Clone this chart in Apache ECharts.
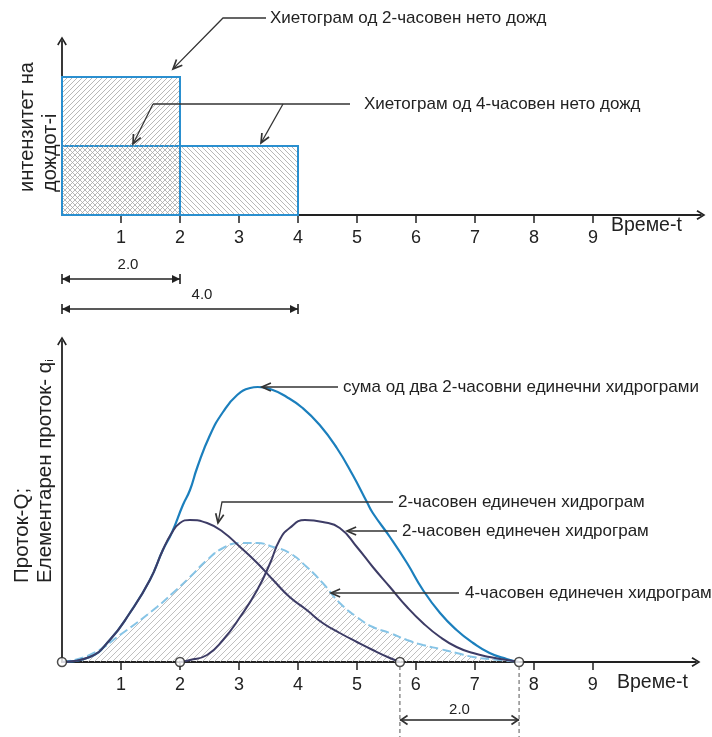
<!DOCTYPE html>
<html>
<head>
<meta charset="utf-8">
<script src="https://cdn.jsdelivr.net/npm/echarts@6/dist/echarts.min.js"></script>
<style>
  html, body { margin: 0; padding: 0; background: #fff; }
  #chart { width: 712px; height: 737px; }
</style>
</head>
<body>
<div id="chart"></div>
<script>
// ---- Hyetographs (net rain): duration in hours and intensity ----
const hyetoDuration = [4, 2];
const hyetoIntensity = [1, 2];

// ---- Time axis tick labels ----
const tickLabels = ['1', '2', '3', '4', '5', '6', '7', '8', '9'];

// ---- Unit hydrographs [time, discharge] ----
const uhFirst = [
  [0, 0], [0.47, 0.5], [0.81, 2.2], [1.15, 4.9], [1.49, 8.2], [1.71, 11.2], [1.86, 12.9],
  [2.0, 13.9], [2.17, 14.2], [2.46, 13.9], [2.73, 13.0], [3.02, 11.5], [3.31, 9.9],
  [3.58, 8.2], [3.86, 6.5], [4.15, 5.2], [4.42, 3.9], [4.71, 2.9], [5.0, 2.0],
  [5.27, 1.2], [5.56, 0.4], [5.73, 0]
];
const uhSecond = [
  [2.0, 0], [2.17, 0.2], [2.46, 0.7], [2.73, 2.2], [3.02, 4.5], [3.31, 7.2], [3.53, 9.9],
  [3.69, 12.2], [3.86, 13.4], [4.12, 14.2], [4.42, 14.0], [4.71, 13.4], [5.0, 11.5],
  [5.27, 9.5], [5.56, 7.5], [5.85, 5.5], [6.12, 3.9], [6.41, 2.5], [6.69, 1.5],
  [6.97, 0.9], [7.25, 0.5], [7.54, 0.2], [7.75, 0]
];
const uhFour = [
  [0, 0], [0.47, 0.7], [1.03, 2.9], [1.61, 5.5], [1.88, 6.9], [2.17, 8.5], [2.46, 10.2],
  [2.73, 11.4], [3.02, 11.9], [3.31, 11.9], [3.58, 11.5], [3.86, 10.9], [4.15, 9.5],
  [4.42, 7.9], [4.71, 5.9], [5.0, 4.5], [5.27, 3.5], [5.56, 2.9], [5.85, 2.2],
  [6.12, 1.7], [6.41, 1.3], [6.69, 0.9], [6.97, 0.5], [7.25, 0.3], [7.75, 0]
];
const uhSum = [
  [0, 0], [0.47, 0.5], [0.81, 2.2], [1.15, 4.9], [1.49, 8.2], [1.71, 11.2], [1.86, 12.9],
  [2.05, 15.7], [2.17, 17.2], [2.29, 19.4], [2.51, 22.7], [2.73, 25.0], [2.97, 26.7],
  [3.19, 27.4], [3.32, 27.5], [3.53, 27.3], [3.81, 26.5], [4.08, 25.4], [4.37, 23.7],
  [4.66, 21.4], [4.93, 18.7], [5.17, 16.0], [5.27, 14.9], [5.56, 12.5], [5.85, 9.9],
  [6.12, 7.2], [6.41, 4.9], [6.69, 3.2], [6.97, 1.9], [7.25, 0.9], [7.54, 0.3], [7.75, 0]
];
// start / end points of the 2-hour unit hydrographs
const keyPoints = [[0, 0], [2, 0], [5.73, 0], [7.75, 0]];

const tickValues = tickLabels.map(Number);
const INK = '#222';
const FONT = '"Liberation Sans", Arial, sans-serif';
const ARROW = 'path://M50,0 L100,82 L86,92 L50,30 L14,92 L0,82 Z';
const SMOOTH = 0.5;

// diagonal hatching tile
function hatch(dir, step, color, width) {
  const c = document.createElement('canvas');
  c.width = c.height = step;
  const g = c.getContext('2d');
  g.strokeStyle = color;
  g.lineWidth = width;
  g.beginPath();
  for (let k = -1; k <= 1; k++) {
    if (dir === '/') { g.moveTo(k * step, step); g.lineTo(k * step + step, 0); }
    else { g.moveTo(k * step, 0); g.lineTo(k * step + step, step); }
  }
  g.stroke();
  return { image: c, repeat: 'repeat' };
}

function timeAxis(gi, max) {
  return {
    type: 'value', gridIndex: gi, min: 0, max: max, interval: 1,
    splitLine: { show: false },
    axisLine: { show: true, onZero: false, symbol: ['none', ARROW], symbolSize: [11, 9],
      lineStyle: { color: INK, width: 1.8 } },
    axisTick: { show: true, customValues: tickValues, length: 8, lineStyle: { color: INK, width: 1.5 } },
    axisLabel: { customValues: tickValues, formatter: v => tickLabels[tickValues.indexOf(v)],
      margin: 14, fontSize: 18, color: INK, fontFamily: FONT }
  };
}
function valueAxis(gi, max) {
  return {
    type: 'value', gridIndex: gi, min: 0, max: max,
    splitLine: { show: false }, axisTick: { show: false }, axisLabel: { show: false },
    axisLine: { show: true, onZero: false, symbol: ['none', ARROW], symbolSize: [11, 9],
      lineStyle: { color: INK, width: 1.8 } }
  };
}

const hatchRain = [hatch('\\', 5, '#a6a6a6', 0.8), hatch('/', 5, '#a6a6a6', 0.8)];
const hatchFlow = hatch('/', 6, '#b0b0b0', 0.8);

const chart = echarts.init(document.getElementById('chart'), null, { renderer: 'canvas' });
chart.setOption({
  animation: false,
  backgroundColor: '#fff',
  grid: [
    { left: 62, right: 11, top: 41, height: 174 },
    { left: 62, right: 16, top: 341, height: 321 }
  ],
  xAxis: [timeAxis(0, 10.83), timeAxis(1, 10.75)],
  yAxis: [valueAxis(0, 2.52), valueAxis(1, 32.1)],
  series: [
    {
      type: 'custom', xAxisIndex: 0, yAxisIndex: 0,
      data: hyetoDuration.map((d, i) => [0, d, hyetoIntensity[i]]),
      encode: { x: [0, 1], y: 2 },
      renderItem: (params, api) => {
        const p0 = api.coord([api.value(0), api.value(2)]);
        const p1 = api.coord([api.value(1), 0]);
        return {
          type: 'rect',
          shape: { x: p0[0], y: p0[1], width: p1[0] - p0[0], height: p1[1] - p0[1] },
          style: { fill: hatchRain[params.dataIndex], stroke: '#2a8fcf', lineWidth: 2 }
        };
      }
    },
    {
      type: 'line', xAxisIndex: 1, yAxisIndex: 1, data: uhFour, showSymbol: false, smooth: SMOOTH,
      lineStyle: { color: '#86c4e6', width: 2, type: [9, 4] },
      areaStyle: { color: hatchFlow, opacity: 1 }, z: 2
    },
    {
      type: 'line', xAxisIndex: 1, yAxisIndex: 1, data: uhSum, showSymbol: false, smooth: SMOOTH,
      lineStyle: { color: '#1b7fbd', width: 2.2 }, z: 3
    },
    {
      type: 'line', xAxisIndex: 1, yAxisIndex: 1, data: uhFirst, showSymbol: false, smooth: SMOOTH,
      lineStyle: { color: '#3d3c66', width: 2 }, z: 4
    },
    {
      type: 'line', xAxisIndex: 1, yAxisIndex: 1, data: uhSecond, showSymbol: false, smooth: SMOOTH,
      lineStyle: { color: '#3d3c66', width: 2 }, z: 4
    },
    {
      type: 'scatter', xAxisIndex: 1, yAxisIndex: 1, data: keyPoints, symbol: 'circle', symbolSize: 9,
      itemStyle: { color: '#fff', borderColor: INK, borderWidth: 1.5 }, z: 6
    }
  ]
});

// ---- annotations ----
const LEAD = '#333';
const NOTE = 17;
function txt(x, y, text, size, extra) {
  return Object.assign({ type: 'text', x: x, y: y, z: 10,
    style: { text: text, fill: INK, fontSize: size, fontFamily: FONT, align: 'left', verticalAlign: 'middle' } }, extra || {});
}
function ctxt(x, y, text, size) {
  return { type: 'text', x: x, y: y, z: 10,
    style: { text: text, fill: INK, fontSize: size, fontFamily: FONT, align: 'center', verticalAlign: 'middle' } };
}
function line(points, style) {
  return { type: 'polyline', z: 10, shape: { points: points },
    style: Object.assign({ stroke: LEAD, lineWidth: 1.3, fill: null }, style || {}) };
}
function head(tip, from, len, spread) {
  len = len || 10; spread = spread || 0.42;
  const a = Math.atan2(from[1] - tip[1], from[0] - tip[0]);
  return line([
    [tip[0] + len * Math.cos(a - spread), tip[1] + len * Math.sin(a - spread)],
    tip,
    [tip[0] + len * Math.cos(a + spread), tip[1] + len * Math.sin(a + spread)]
  ], { lineWidth: 1.7 });
}
function leader(points) {
  const n = points.length;
  return [line(points), head(points[n - 1], points[n - 2])];
}
const toTop = p => chart.convertToPixel({ gridIndex: 0 }, p);
const toBot = p => chart.convertToPixel({ gridIndex: 1 }, p);

const g = [];
// rotated axis titles
g.push(txt(27, 192, 'интензитет на', 20, { rotation: Math.PI / 2 }));
g.push(txt(50, 192, 'дождот-i', 20, { rotation: Math.PI / 2 }));
g.push(txt(22, 583, 'Проток-Q;', 20.5, { rotation: Math.PI / 2 }));
const ql = txt(45, 583, 'Елементарен проток- q{s|i}', 20.5, { rotation: Math.PI / 2 });
ql.style.rich = { s: { fontSize: 11, fontFamily: FONT, fill: INK, padding: [9, 0, 0, 0] } };
g.push(ql);
// time axis names
g.push(txt(611, 226, 'Време-t', 19.5));
g.push(txt(617, 683, 'Време-t', 19.5));

// hyetograph callouts
const c2 = toTop([hyetoDuration[1], hyetoIntensity[1]]);
g.push(txt(270, 18, 'Хиетограм од 2-часовен нето дожд', NOTE));
g.push(...leader([[266, 18], [223, 18], [c2[0] - 7, c2[1] - 8]]));
const c4 = toTop([hyetoDuration[0], hyetoIntensity[0]]);
g.push(txt(364, 104, 'Хиетограм од 4-часовен нето дожд', NOTE));
g.push(line([[350, 104], [153, 104]]));
g.push(...leader([[153, 104], [133, c4[1] - 2]]));
g.push(...leader([[283, 104], [261, c4[1] - 3]]));

// hydrograph callouts
const pk = toBot(uhSum[14]);
g.push(txt(343, pk[1], 'сума од два 2-часовни единечни хидрограми', NOTE));
g.push(...leader([[338, pk[1]], [pk[0] + 4, pk[1]]]));
g.push(txt(398, 502, '2-часовен единечен хидрограм', NOTE));
g.push(...leader([[393, 502], [222, 502], [218, 523]]));
g.push(txt(402, 531, '2-часовен единечен хидрограм', NOTE));
g.push(...leader([[397, 531], [347, 531]]));
g.push(txt(465, 593, '4-часовен единечен хидрограм', NOTE));
g.push(...leader([[459, 593], [331, 593]]));

// duration dimensions under the hyetograph
function dimBar(x0, x1, y, label, lx, ly) {
  g.push(line([[x0, y], [x1, y]], { stroke: INK, lineWidth: 1.6 }));
  g.push(line([[x0, y - 5], [x0, y + 5]], { stroke: INK, lineWidth: 1.6 }));
  g.push(line([[x1, y - 5], [x1, y + 5]], { stroke: INK, lineWidth: 1.6 }));
  g.push({ type: 'polygon', z: 10, shape: { points: [[x0, y], [x0 + 8, y - 4], [x0 + 8, y + 4]] }, style: { fill: INK } });
  g.push({ type: 'polygon', z: 10, shape: { points: [[x1, y], [x1 - 8, y - 4], [x1 - 8, y + 4]] }, style: { fill: INK } });
  g.push(ctxt(lx, ly, label, 15));
}
const d0 = toTop([0, 0]);
dimBar(d0[0], toTop([hyetoDuration[1], 0])[0], 279, '2.0', 128, 265);
dimBar(d0[0], toTop([hyetoDuration[0], 0])[0], 309, '4.0', 202, 295);

// lag between the two 2-hour hydrographs
const e1 = toBot(uhFirst[uhFirst.length - 1]);
const e2 = toBot(uhSecond[uhSecond.length - 1]);
[e1, e2].forEach(p => g.push(line([[p[0], p[1] + 4], [p[0], 737]], { stroke: '#555', lineWidth: 1, lineDash: [4, 3] })));
g.push(line([[e1[0], 720], [e2[0], 720]], { stroke: INK, lineWidth: 1.5 }));
g.push(head([e1[0] + 1, 720], [e2[0], 720], 8, 0.6));
g.push(head([e2[0] - 1, 720], [e1[0], 720], 8, 0.6));
g.push(ctxt((e1[0] + e2[0]) / 2, 710, '2.0', 15));

chart.setOption({ graphic: g });
</script>
</body>
</html>
